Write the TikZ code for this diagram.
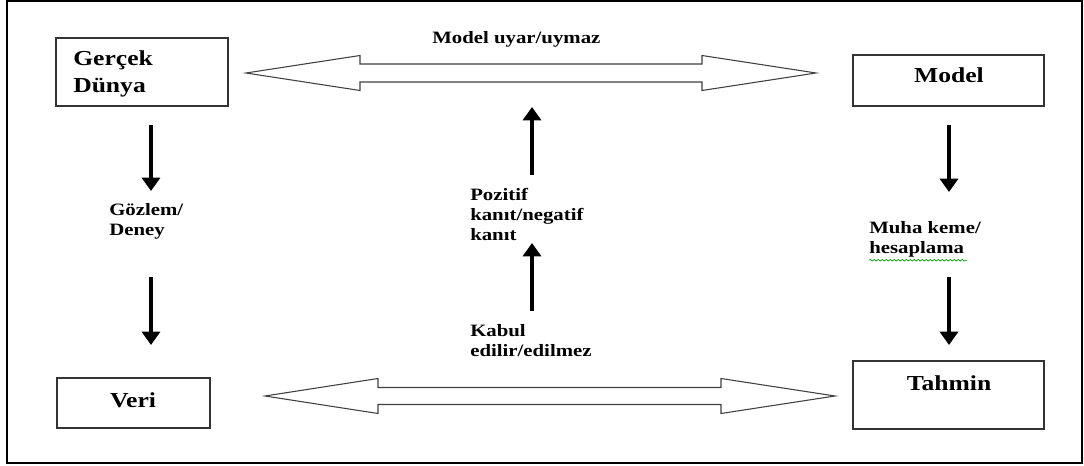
\documentclass[tikz,border=0pt]{standalone}
\usepackage{fontspec}
\setmainfont{Liberation Serif}[FakeStretch=1.2]
\usetikzlibrary{arrows.meta,calc,decorations.pathmorphing}
\begin{document}
\begin{tikzpicture}[x=0.75pt,y=-0.75pt,
  boxnode/.style={draw=black!80,line width=1pt,inner sep=0pt,fill=white},
  boxtext/.style={inner sep=0pt,font=\fontsize{16}{20}\selectfont\bfseries},
  smalltext/.style={inner sep=0pt,align=left,anchor=north west,font=\fontsize{13}{15}\selectfont\bfseries},
  hollow/.style={draw=black!75,line width=0.8pt,fill=white,line join=miter},
  blackarrow/.style={line width=3.4pt,-{Triangle[length=10pt,width=13.5pt]}}
]
\useasboundingbox (0,0) rectangle (1084,466);
% outer frame
\draw[line width=1.5pt] (7,1.5) rectangle (1082,463);

% boxes
\node[boxnode,minimum width=172*0.75pt,minimum height=68*0.75pt] (gd) at (142,72) {};
\node[boxnode,minimum width=191*0.75pt,minimum height=51*0.75pt] (model) at (948.5,80.5) {};
\node[boxnode,minimum width=153*0.75pt,minimum height=50*0.75pt] (veri) at (133.5,403) {};
\node[boxnode,minimum width=191*0.75pt,minimum height=68*0.75pt] (tahmin) at (948.5,395) {};

% box texts
\node[inner sep=0pt,align=left,anchor=north west,font=\fontsize{16}{20}\selectfont\bfseries] (gdt) at (73,50.5) {Gerçek\\Dünya};
\node[boxtext,anchor=base] (modelt) at (949,83) {Model};
\node[boxtext,anchor=base] (verit) at (133,407) {Veri};
\node[boxtext,anchor=base] (tahmint) at (949,390) {Tahmin};

% labels
\node[inner sep=0pt,anchor=base west,font=\fontsize{13}{15}\selectfont\bfseries] (uyar) at (432,44) {Model uyar/uymaz};
\node[smalltext] (gozlem) at (109,203) {Gözlem/\\Deney};
\node[smalltext] (pozitif) at (470,188) {Pozitif\\kanıt/negatif\\kanıt};
\node[smalltext] (kabul) at (470,324) {Kabul\\edilir/edilmez};
\node[smalltext] (muha) at (869,221) {Muha keme/\\hesaplama};
\draw[green!60!black,line width=0.5pt,decorate,decoration={snake,amplitude=0.6pt,segment length=3pt}]
  ($(muha.south west)+(0,3)$) -- ($(muha.south west)+(98,3)$);

% hollow double arrows
\coordinate (tL) at (246,73);
\coordinate (tR) at (816,73);
\draw[hollow] (tL) -- ($(tL)+(114,-17.5)$) -- ($(tL)+(114,-9)$) -- ($(tR)+(-114,-9)$) -- ($(tR)+(-114,-17.5)$)
  -- (tR) -- ($(tR)+(-114,17.5)$) -- ($(tR)+(-114,9)$) -- ($(tL)+(114,9)$) -- ($(tL)+(114,17.5)$) -- cycle;
\coordinate (bL) at (265,396);
\coordinate (bR) at (835,396);
\draw[hollow] (bL) -- ($(bL)+(113,-17.5)$) -- ($(bL)+(113,-8.5)$) -- ($(bR)+(-114,-8.5)$) -- ($(bR)+(-114,-17.5)$)
  -- (bR) -- ($(bR)+(-114,17.5)$) -- ($(bR)+(-114,8.5)$) -- ($(bL)+(113,8.5)$) -- ($(bL)+(113,17.5)$) -- cycle;

% black arrows
\coordinate (a1s) at (151,125); \coordinate (a1e) at (151,191);
\coordinate (a2s) at (151,277); \coordinate (a2e) at (151,345);
\coordinate (a3s) at (532,175); \coordinate (a3e) at (532,107);
\coordinate (a4s) at (532,311); \coordinate (a4e) at (532,243);
\coordinate (a5s) at (949,125); \coordinate (a5e) at (949,192);
\coordinate (a6s) at (949,277); \coordinate (a6e) at (949,345);
\draw[blackarrow] (a1s) -- (a1e);
\draw[blackarrow] (a2s) -- (a2e);
\draw[blackarrow] (a3s) -- (a3e);
\draw[blackarrow] (a4s) -- (a4e);
\draw[blackarrow] (a5s) -- (a5e);
\draw[blackarrow] (a6s) -- (a6e);
\end{tikzpicture}
\end{document}
